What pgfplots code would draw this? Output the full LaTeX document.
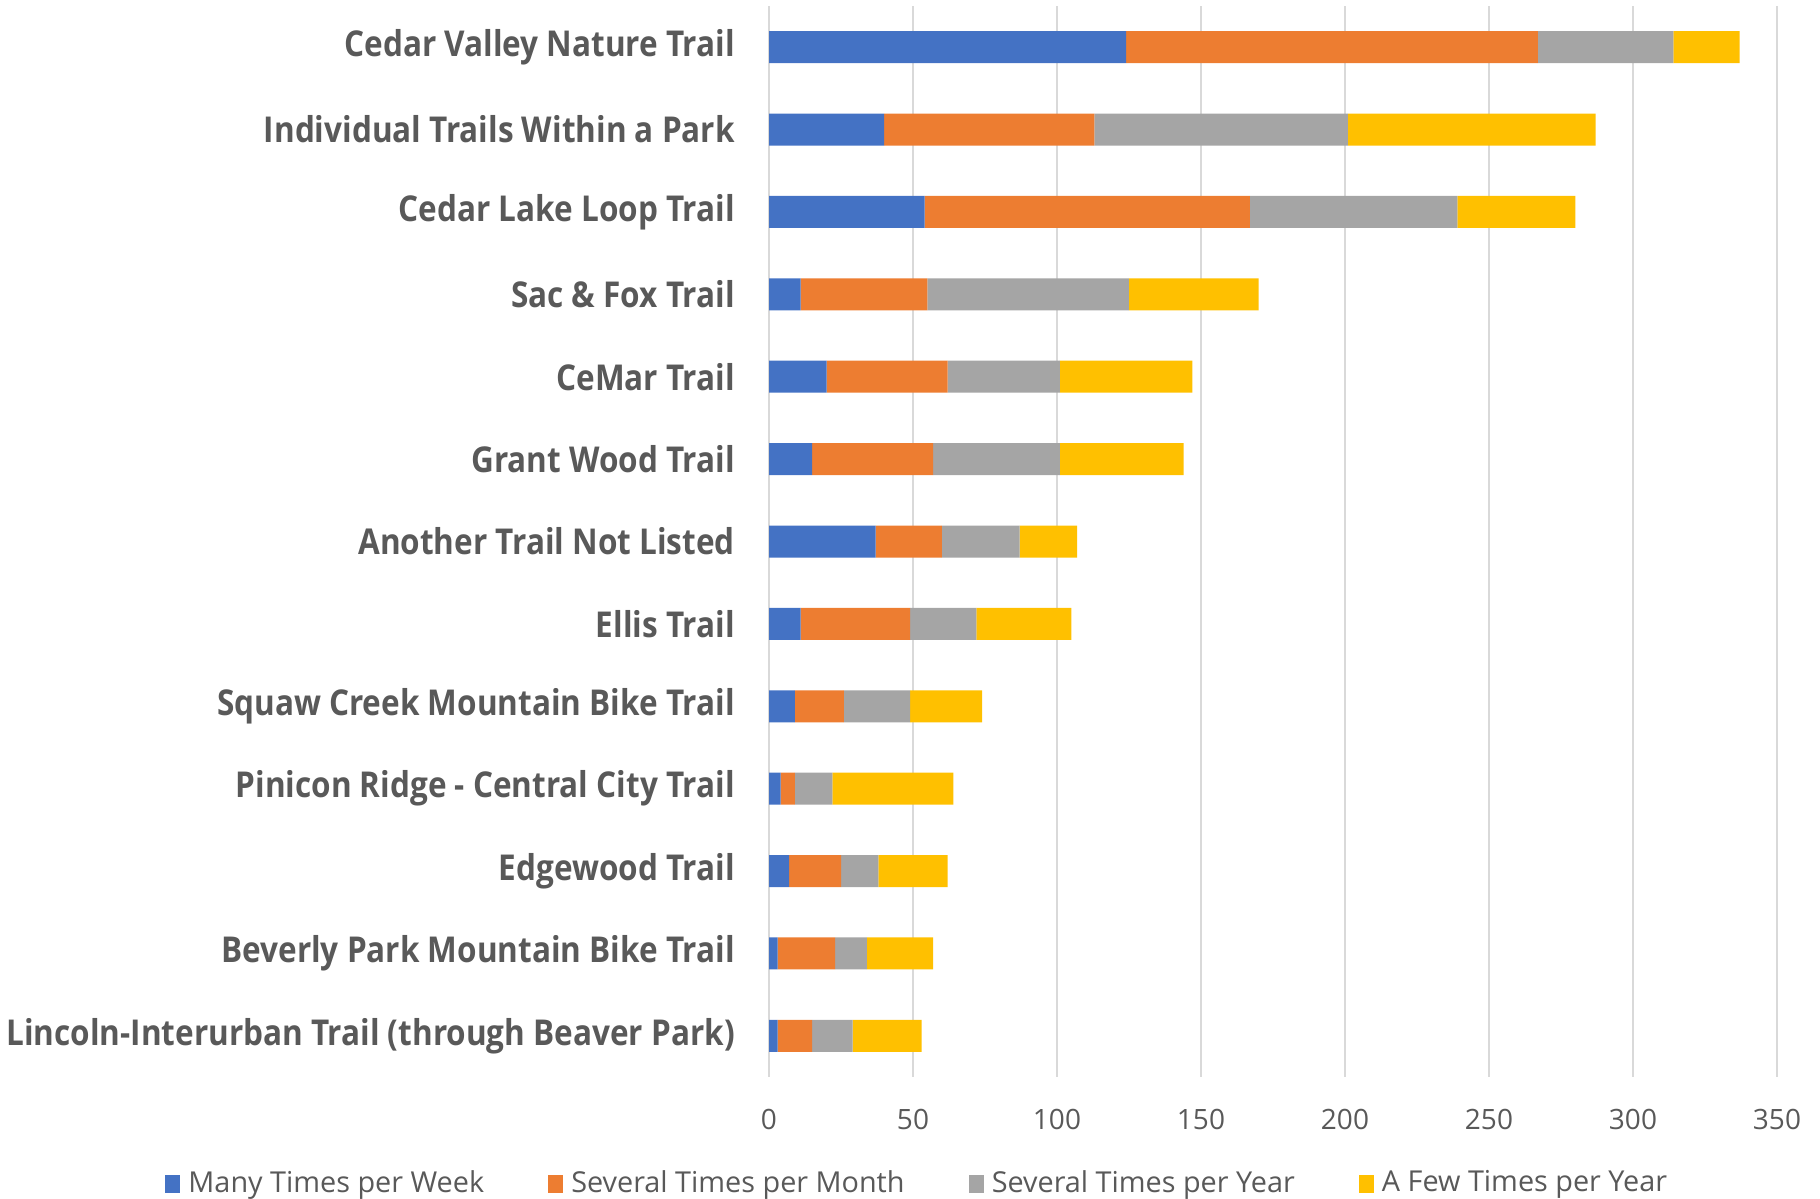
\documentclass[border=0pt]{standalone}
\usepackage{pgfplots}
\usepackage{pgfplotstable}
\pgfplotsset{compat=1.18}
\usepackage{fontspec}
\setmainfont{Open Sans}
\newfontfamily\labfont[FakeStretch=0.885]{Open Sans}

\definecolor{cweek}{HTML}{4472C4}
\definecolor{cmonth}{HTML}{ED7D31}
\definecolor{cyear}{HTML}{A5A5A5}
\definecolor{cfew}{HTML}{FFC000}
\definecolor{txt}{HTML}{595959}
\definecolor{gridc}{HTML}{D9D9D9}

% use counts per trail
\pgfplotstableread{
idx week month year few
0  124 143 47 23
1  40  73  88 86
2  54  113 72 41
3  11  44  70 45
4  20  42  39 46
5  15  42  44 43
6  37  23  27 20
7  11  38  23 33
8  9   17  23 25
9  4   5   13 42
10 7   18  13 24
11 3   20  11 23
12 3   12  14 24
}\trails

\begin{document}
\begin{tikzpicture}
\path[use as bounding box] (0,0) rectangle (455pt,299.75pt);
\begin{axis}[
    at={(192.25pt,30.5pt)}, anchor=south west,
    scale only axis, width=252pt, height=267.75pt,
    xbar stacked, bar width=8pt,
    y dir=reverse,
    xmin=0, xmax=350,
    ymin=-0.5, ymax=12.5,
    xtick={0,50,...,350},
    ytick={0,...,12},
    yticklabels={Cedar Valley Nature Trail, Individual Trails Within a Park,
        Cedar Lake Loop Trail, Sac \& Fox Trail, CeMar Trail, Grant Wood Trail,
        Another Trail Not Listed, Ellis Trail, Squaw Creek Mountain Bike Trail,
        Pinicon Ridge - Central City Trail, Edgewood Trail,
        Beverly Park Mountain Bike Trail, Lincoln-Interurban Trail (through Beaver Park)},
    yticklabel style={font=\labfont\fontsize{8.9}{10}\selectfont\bfseries, text=txt, xshift=-5pt},
    xticklabel style={font=\fontsize{7}{8}\selectfont, text=txt, yshift=-4.5pt},
    /pgf/number format/assume math mode=true,
    major tick length=0pt,
    axis line style={draw=none},
    xmajorgrids=true, ymajorgrids=false,
    grid style={draw=gridc, line width=0.5pt},
    legend columns=4,
    legend style={at={(0.15,-0.1)}, anchor=center, draw=none,
        font=\fontsize{7.2}{8}\selectfont, text=txt,
        /tikz/every even column/.append style={column sep=14pt}},
    legend image code/.code={\fill[#1] (0pt,-2.2pt) rectangle (3.8pt,2.2pt);},
]
\addplot[fill=cweek, draw=none] table[x=week, y=idx] {\trails};
\addplot[fill=cmonth, draw=none] table[x=month, y=idx] {\trails};
\addplot[fill=cyear, draw=none] table[x=year, y=idx] {\trails};
\addplot[fill=cfew, draw=none] table[x=few, y=idx] {\trails};
\legend{Many Times per Week, Several Times per Month, Several Times per Year, A Few Times per Year}
\end{axis}
\end{tikzpicture}
\end{document}
